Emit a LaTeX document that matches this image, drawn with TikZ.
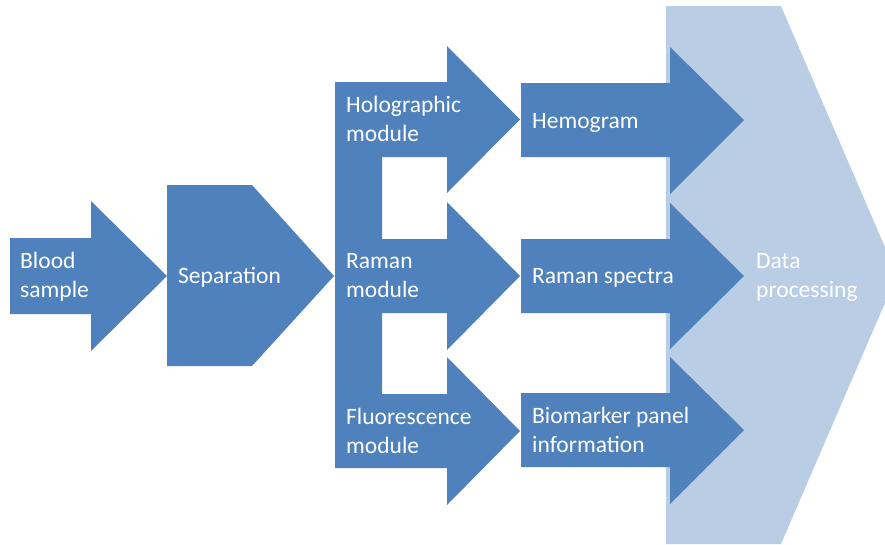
\documentclass[tikz,border=0pt]{standalone}
\usepackage{fontspec}
\setmainfont{Carlito}
\definecolor{flowblue}{HTML}{4F81BD}
\definecolor{flowlight}{HTML}{B9CDE5}
\begin{document}
\begin{tikzpicture}[x=1pt,y=-1pt,
  shapefill/.style={fill=flowblue},
  backfill/.style={fill=flowlight},
  label/.style={inner sep=0pt, anchor=base west, align=left, text=white,
    font=\fontsize{23.5}{28.5}\selectfont}]
\useasboundingbox (0,0) rectangle (885,544);
\begin{scope}
  \clip (0,0) rectangle (885,544);
  % data processing chevron in the background
  \fill[backfill] (666,6) -- (781,6) -- (897,275) -- (781,544) -- (666,544) -- cycle;
\end{scope}
% input arrow
\fill[shapefill] (10,238) -- (91,238) -- (91,201) -- (167,276) -- (91,351)
  -- (91,314) -- (10,314) -- cycle;
% separation pentagon
\fill[shapefill] (167,185) -- (252,185) -- (334,276) -- (252,366) -- (167,366) -- cycle;
% branching module arrows
\fill[shapefill] (335,82) -- (447,82) -- (447,46) -- (520,119.5) -- (447,193)
  -- (447,157) -- (382,157) -- (382,239) -- (447,239) -- (447,202) -- (520,276)
  -- (447,350) -- (447,313) -- (382,313) -- (382,394) -- (447,394) -- (447,357)
  -- (520,431) -- (447,505) -- (447,468) -- (335,468) -- cycle;
% result arrows
\fill[shapefill] (521,83) -- (670,83) -- (670,47) -- (744,120) -- (670,194)
  -- (670,157) -- (521,157) -- cycle;
\fill[shapefill] (521,239) -- (670,239) -- (670,203) -- (744,276) -- (670,349)
  -- (670,313) -- (521,313) -- cycle;
\fill[shapefill] (521,393) -- (670,393) -- (670,357) -- (744,430) -- (670,504)
  -- (670,467) -- (521,467) -- cycle;
% labels (two-line labels are placed by the baseline of their last line)
\node[label] (blood) at (20,297) {Blood\\sample};
\node[label] (sep) at (178,283) {Separation};
\node[label] (holo) at (346,141) {Holographic\\module};
\node[label] (raman) at (346,297) {Raman\\module};
\node[label] (fluo) at (346,453) {Fluorescence\\module};
\node[label] (hemo) at (532,128) {Hemogram};
\node[label] (spec) at (532,283) {Raman spectra};
\node[label] (bio) at (532,452) {Biomarker panel\\information};
\node[label] (data) at (756,297) {Data\\processing};
\end{tikzpicture}
\end{document}
